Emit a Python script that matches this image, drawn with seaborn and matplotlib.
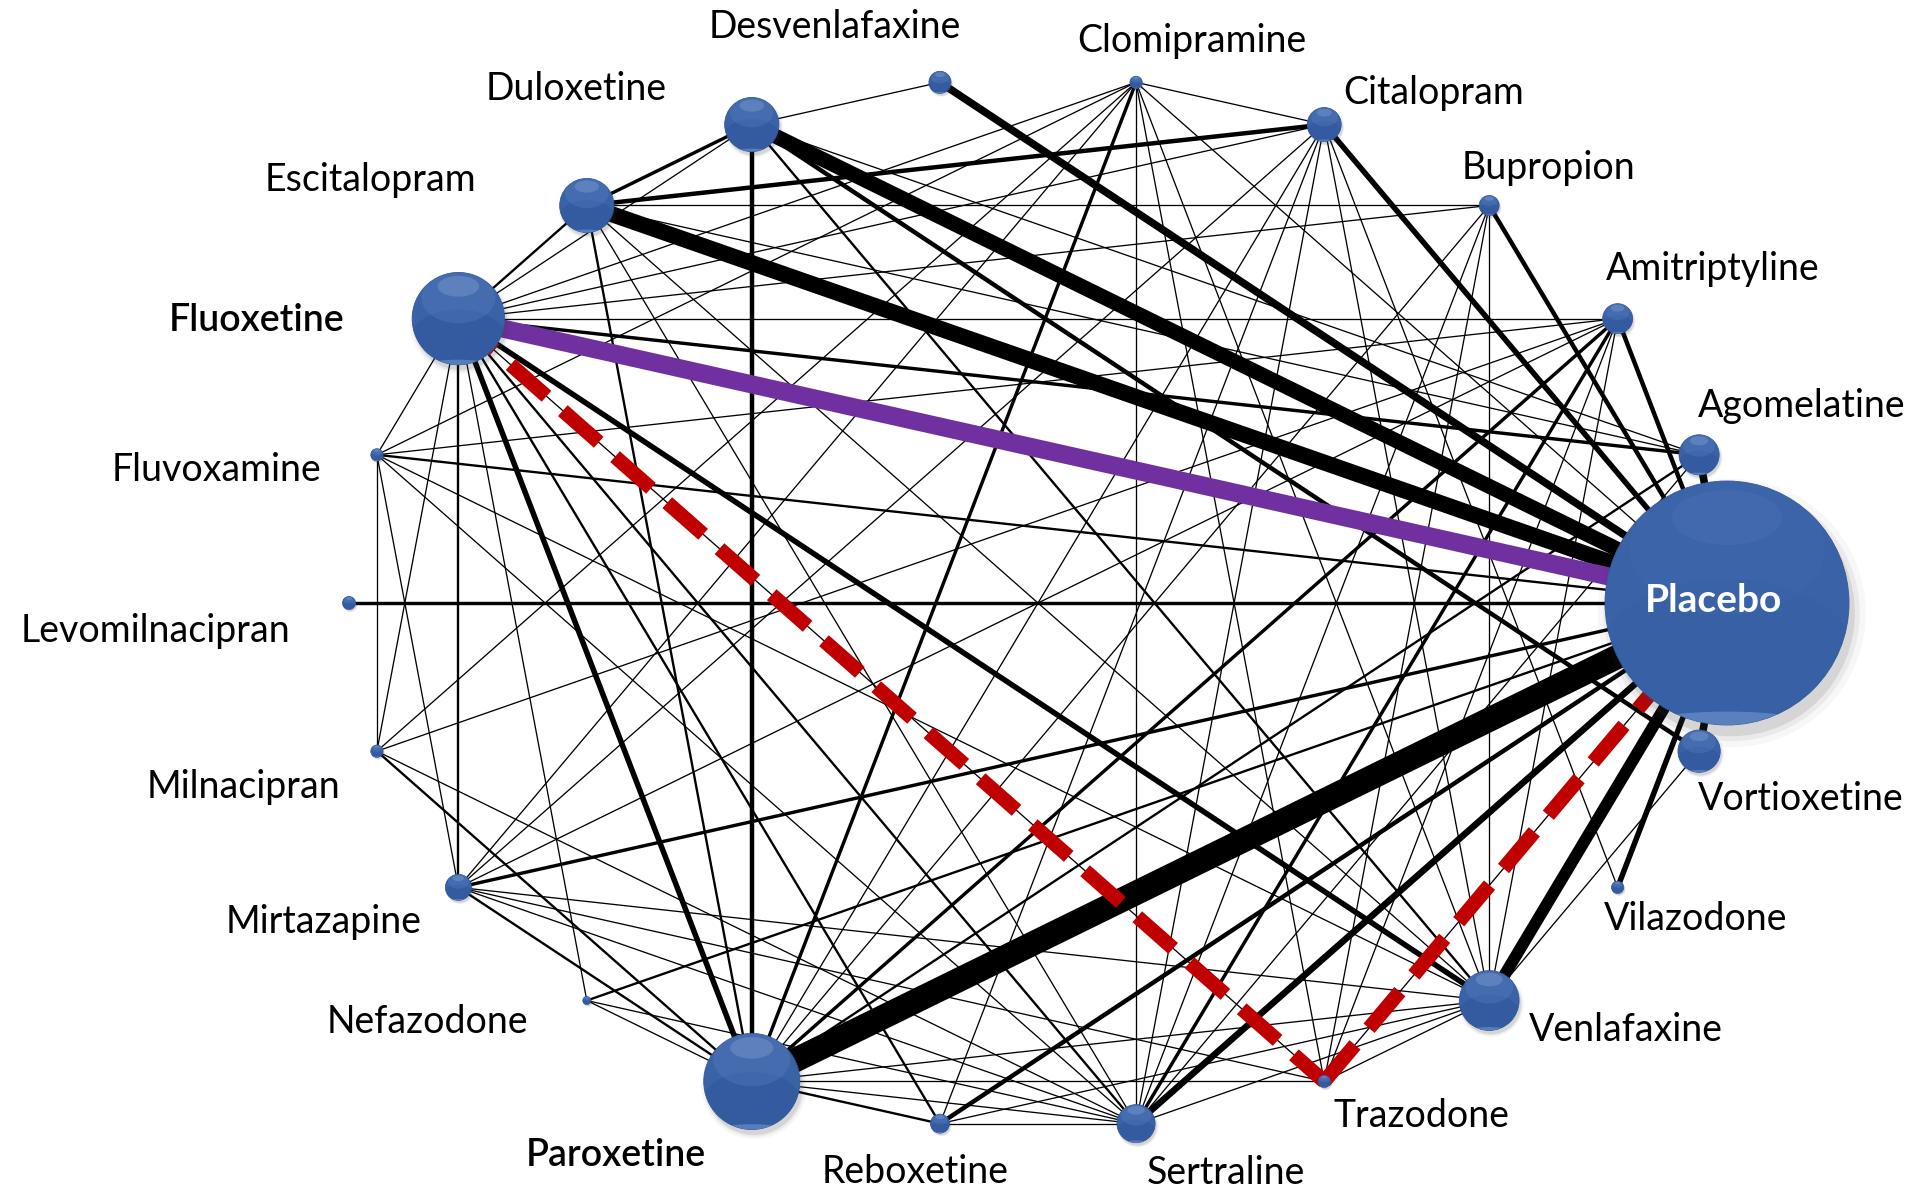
import numpy as np
import matplotlib
matplotlib.use("Agg")
import matplotlib.pyplot as plt
from matplotlib.collections import LineCollection
from matplotlib.patches import Circle, Ellipse
import seaborn as sns

# ---- data -------------------------------------------------------------
treatments = ["Placebo", "Agomelatine", "Amitriptyline", "Bupropion", "Citalopram",
              "Clomipramine", "Desvenlafaxine", "Duloxetine", "Escitalopram", "Fluoxetine",
              "Fluvoxamine", "Levomilnacipran", "Milnacipran", "Mirtazapine", "Nefazodone",
              "Paroxetine", "Reboxetine", "Sertraline", "Trazodone", "Venlafaxine",
              "Vilazodone", "Vortioxetine"]

# patients randomised to each treatment (node area)
patients = [30000, 810, 450, 200, 580,
            75, 245, 1480, 1480, 4300,
            75, 85, 75, 340, 32,
            4650, 180, 730, 75, 1800,
            75, 900]

# direct comparisons: (treatment A, treatment B, number of trials)
comparisons = [
    ("Placebo", "Paroxetine", 23), ("Placebo", "Fluoxetine", 17),
    ("Placebo", "Escitalopram", 15), ("Placebo", "Duloxetine", 14),
    ("Placebo", "Venlafaxine", 11), ("Placebo", "Agomelatine", 7),
    ("Placebo", "Desvenlafaxine", 7), ("Placebo", "Sertraline", 6),
    ("Placebo", "Vortioxetine", 7), ("Placebo", "Citalopram", 5),
    ("Placebo", "Vilazodone", 5), ("Placebo", "Amitriptyline", 4),
    ("Placebo", "Bupropion", 4), ("Placebo", "Levomilnacipran", 3),
    ("Placebo", "Reboxetine", 4), ("Placebo", "Mirtazapine", 3),
    ("Placebo", "Nefazodone", 2), ("Placebo", "Fluvoxamine", 2),
    ("Placebo", "Trazodone", 1), ("Placebo", "Clomipramine", 1),
    ("Fluoxetine", "Paroxetine", 5), ("Fluoxetine", "Venlafaxine", 5),
    ("Fluoxetine", "Agomelatine", 3), ("Fluoxetine", "Escitalopram", 2),
    ("Fluoxetine", "Mirtazapine", 2), ("Fluoxetine", "Sertraline", 2),
    ("Fluoxetine", "Reboxetine", 2), ("Fluoxetine", "Amitriptyline", 1),
    ("Fluoxetine", "Duloxetine", 1), ("Fluoxetine", "Citalopram", 1),
    ("Fluoxetine", "Clomipramine", 1), ("Fluoxetine", "Bupropion", 1),
    ("Fluoxetine", "Fluvoxamine", 1), ("Fluoxetine", "Milnacipran", 1),
    ("Fluoxetine", "Nefazodone", 1), ("Fluoxetine", "Trazodone", 1),
    ("Duloxetine", "Paroxetine", 4), ("Duloxetine", "Vortioxetine", 4),
    ("Duloxetine", "Escitalopram", 3), ("Duloxetine", "Venlafaxine", 2),
    ("Duloxetine", "Agomelatine", 1), ("Duloxetine", "Desvenlafaxine", 1),
    ("Escitalopram", "Citalopram", 4), ("Escitalopram", "Paroxetine", 2),
    ("Escitalopram", "Bupropion", 1), ("Escitalopram", "Agomelatine", 1),
    ("Escitalopram", "Sertraline", 1), ("Escitalopram", "Venlafaxine", 1),
    ("Citalopram", "Clomipramine", 1), ("Citalopram", "Mirtazapine", 1),
    ("Citalopram", "Paroxetine", 1), ("Citalopram", "Reboxetine", 1),
    ("Citalopram", "Sertraline", 1), ("Citalopram", "Venlafaxine", 1),
    ("Citalopram", "Vilazodone", 1),
    ("Clomipramine", "Paroxetine", 3), ("Clomipramine", "Sertraline", 1),
    ("Clomipramine", "Milnacipran", 1), ("Clomipramine", "Fluvoxamine", 1),
    ("Clomipramine", "Mirtazapine", 1), ("Clomipramine", "Trazodone", 1),
    ("Clomipramine", "Venlafaxine", 1),
    ("Bupropion", "Paroxetine", 1), ("Bupropion", "Sertraline", 1),
    ("Bupropion", "Trazodone", 1), ("Bupropion", "Venlafaxine", 1),
    ("Amitriptyline", "Paroxetine", 3), ("Amitriptyline", "Sertraline", 3),
    ("Amitriptyline", "Fluvoxamine", 1), ("Amitriptyline", "Milnacipran", 1),
    ("Amitriptyline", "Mirtazapine", 1), ("Amitriptyline", "Trazodone", 1),
    ("Amitriptyline", "Venlafaxine", 1),
    ("Agomelatine", "Paroxetine", 2), ("Agomelatine", "Sertraline", 1),
    ("Vortioxetine", "Venlafaxine", 1),
    ("Venlafaxine", "Mirtazapine", 1), ("Venlafaxine", "Paroxetine", 1),
    ("Venlafaxine", "Reboxetine", 1), ("Venlafaxine", "Sertraline", 1),
    ("Venlafaxine", "Trazodone", 1), ("Venlafaxine", "Fluvoxamine", 1),
    ("Trazodone", "Paroxetine", 1), ("Trazodone", "Mirtazapine", 1),
    ("Sertraline", "Paroxetine", 1), ("Sertraline", "Reboxetine", 1),
    ("Sertraline", "Mirtazapine", 1), ("Sertraline", "Milnacipran", 1),
    ("Sertraline", "Nefazodone", 1), ("Sertraline", "Fluvoxamine", 1),
    ("Reboxetine", "Paroxetine", 2),
    ("Paroxetine", "Milnacipran", 2), ("Paroxetine", "Mirtazapine", 2),
    ("Paroxetine", "Nefazodone", 1),
    ("Mirtazapine", "Fluvoxamine", 1), ("Milnacipran", "Fluvoxamine", 1),
]

# highlighted comparisons
direct_highlight = ("Fluoxetine", "Placebo")
indirect_path = ["Fluoxetine", "Trazodone", "Placebo"]
bold_labels = {"Fluoxetine", "Paroxetine"}

# ---- layout -----------------------------------------------------------
W, H = 1926, 1190
CX, CY, RX, RY = 1038, 603, 689, 526
n_nodes = len(treatments)
ang = 2 * np.pi * np.arange(n_nodes) / n_nodes
pos = {t: (CX + RX * np.cos(a), CY - RY * np.sin(a)) for t, a in zip(treatments, ang)}
radius_scale = 122 / np.sqrt(max(patients))
radius = {t: radius_scale * np.sqrt(p) for t, p in zip(treatments, patients)}

# label anchor (centre x, baseline y) relative to each node
label_offset = {
    "Placebo": (-14, 9), "Agomelatine": (103, -38), "Amitriptyline": (95, -39),
    "Bupropion": (59, -26), "Citalopram": (109, -21), "Clomipramine": (56, -30),
    "Desvenlafaxine": (-105, -44), "Duloxetine": (-176, -25),
    "Escitalopram": (-216, -14), "Fluoxetine": (-202, 12), "Fluvoxamine": (-160, 26),
    "Levomilnacipran": (-194, 39), "Milnacipran": (-133, 47), "Mirtazapine": (-135, 46),
    "Nefazodone": (-159, 32), "Paroxetine": (-136, 85), "Reboxetine": (-25, 59),
    "Sertraline": (90, 60), "Trazodone": (97, 46), "Venlafaxine": (137, 40),
    "Vilazodone": (78, 43), "Vortioxetine": (102, 59),
}

PX = 0.72  # points per pixel at dpi 100
def lw_px(n):
    return 0.25 + 1.05 * n

# ---- figure -----------------------------------------------------------
sns.set_theme(style="white")
plt.rcParams["font.family"] = ["Lato", "DejaVu Sans"]
fig = plt.figure(figsize=(W / 100, H / 100), dpi=100)
ax = fig.add_axes([0, 0, 1, 1])
ax.set_xlim(0, W)
ax.set_ylim(H, 0)
ax.axis("off")

# edges, thin first
plain = [c for c in comparisons if {c[0], c[1]} != set(direct_highlight)]
plain.sort(key=lambda c: c[2])
segs = [[pos[a], pos[b]] for a, b, _ in plain]
widths = [lw_px(n) * PX for _, _, n in plain]
ax.add_collection(LineCollection(segs, linewidths=widths, colors="black",
                                 capstyle="butt", zorder=2))

n_direct = [c[2] for c in comparisons if {c[0], c[1]} == set(direct_highlight)][0]
(x0, y0), (x1, y1) = pos[direct_highlight[0]], pos[direct_highlight[1]]
ax.plot([x0, x1], [y0, y1], color="#7030A0", lw=lw_px(n_direct) * PX,
        solid_capstyle="butt", zorder=3)

for a, b in zip(indirect_path[:-1], indirect_path[1:]):
    (xa, ya), (xb, yb) = pos[a], pos[b]
    ax.plot([xa, xb], [ya, yb], color="#C00000", lw=14.5 * PX,
            dashes=(3.3, 1.5), dash_capstyle="butt", zorder=3)

# nodes: soft drop shadow, flat sphere body, then shading for a glossy look
for t in treatments:
    x, y = pos[t]
    r = radius[t]
    for k, al in ((1.10, 0.04), (1.05, 0.07), (1.01, 0.12)):
        ax.add_patch(Circle((x + 0.03 * r + 1, y + 0.07 * r + 1.5), r * k,
                            facecolor="#404040", edgecolor="none", alpha=al, zorder=4))

sizes = [(2 * radius[t] * PX) ** 2 for t in treatments]
sns.scatterplot(x=[pos[t][0] for t in treatments], y=[pos[t][1] for t in treatments],
                s=sizes, color="#3A62A6", edgecolor="#33589A", linewidth=0.6,
                ax=ax, zorder=5, legend=False)

for t in treatments:
    x, y = pos[t]
    r = radius[t]
    g = 0.25 if r > 100 else 1.0
    clip = Circle((x, y), r, transform=ax.transData)
    shades = [
        Ellipse((x, y + 0.45 * r), 2.1 * r, 1.3 * r, facecolor="#22468A", alpha=0.22 * g),
        Ellipse((x, y - 0.45 * r), 1.6 * r, 1.1 * r, facecolor="#6A92D2", alpha=0.22 * g),
        Ellipse((x, y - 0.70 * r), 0.9 * r, 0.45 * r, facecolor="#B3CCF2", alpha=0.22 * g),
        Ellipse((x, y + 1.0 * r), 1.4 * r, 0.22 * r, facecolor="#86A8DE", alpha=0.45),
    ]
    for p in shades:
        p.set_edgecolor("none")
        p.set_zorder(6)
        ax.add_patch(p)
        p.set_clip_path(clip)

# labels
for t in treatments:
    x, y = pos[t]
    dx, dy = label_offset[t]
    if t == "Placebo":
        ax.text(x + dx, y + dy, t, ha="center", va="baseline", fontsize=28,
                fontweight="bold", color="white", zorder=8)
    else:
        ax.text(x + dx, y + dy, t, ha="center", va="baseline", fontsize=27,
                fontweight="semibold" if t in bold_labels else "normal",
                color="black", zorder=8)

fig.savefig("out.png", dpi=100, facecolor="white")
